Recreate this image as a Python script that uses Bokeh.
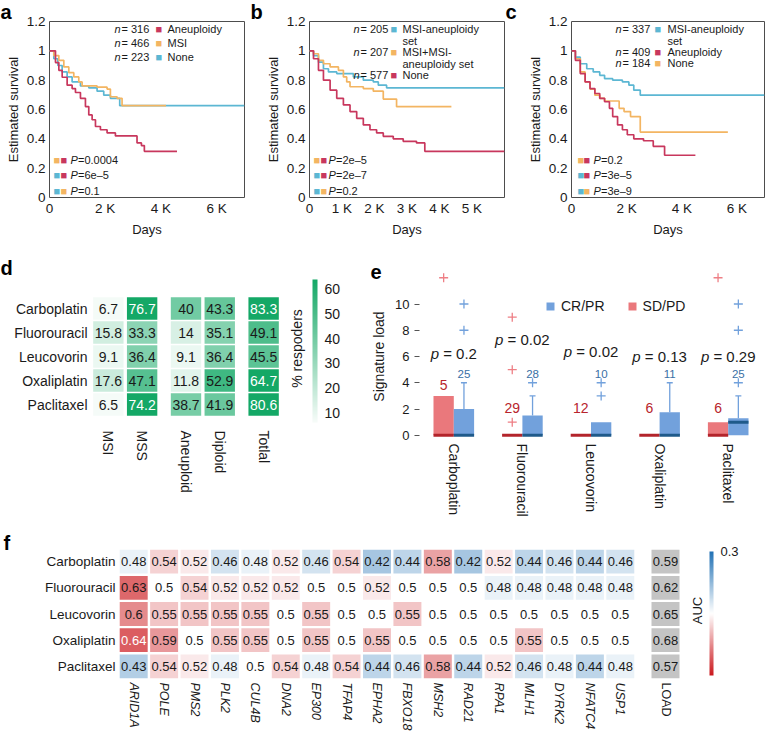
import math
from bokeh.plotting import figure
from bokeh.models import (FactorRange, Range1d, FixedTicker, Label, ColorBar, LinearColorMapper,
                          ColumnDataSource, Legend, LegendItem, NumeralTickFormatter,
                          CustomJSTickFormatter, Title)
from bokeh.transform import dodge, linear_cmap
from bokeh.layouts import row, column
from bokeh.embed import file_html
from bokeh.resources import INLINE
from bokeh.core.properties import value

FONT = "Liberation Sans"
INK = "#1a1a1a"
RED, ORANGE, BLUE = "#c8375d", "#f3b562", "#5cb7d3"

# ================= DATA =================
surv_ticks = [0, 0.2, 0.4, 0.6, 0.8, 1.0, 1.2]
days_ticks_ac = [0, 2000, 4000, 6000]
days_labels_ac = ["0", "2 K", "4 K", "6 K"]
days_ticks_b = [0, 1000, 2000, 3000, 4000, 5000]
days_labels_b = ["0", "1 K", "2 K", "3 K", "4 K", "5 K"]

# panel a
a_aneu_days = [0, 215, 335, 455, 633, 812, 932, 1111, 1290, 1410, 1530, 1650, 1828, 2067, 2366, 3142, 3300, 3405, 4576]
a_aneu_surv = [1.0, 0.92, 0.867, 0.82, 0.766, 0.743, 0.716, 0.676, 0.62, 0.563, 0.53, 0.484, 0.462, 0.44, 0.42, 0.372, 0.354, 0.315, 0.315]
a_msi_days = [0, 155, 335, 514, 693, 872, 1051, 1171, 1708, 2067, 2186, 2425, 2605, 4182]
a_msi_surv = [1.0, 0.968, 0.935, 0.89, 0.851, 0.822, 0.788, 0.761, 0.752, 0.739, 0.687, 0.676, 0.626, 0.626]
a_none_days = [0, 155, 299, 454, 633, 812, 1111, 1410, 1708, 1947, 2186, 2521, 7000]
a_none_surv = [1.0, 0.946, 0.90, 0.856, 0.822, 0.788, 0.761, 0.748, 0.725, 0.698, 0.676, 0.626, 0.626]
a_n = [316, 466, 223]
a_groups = [["Aneuploidy"], ["MSI"], ["None"]]
a_pvals = ["0.0004", "6e\u20135", "0.1"]

# panel b
b_set_days = [0, 123, 276, 429, 583, 838, 1350, 1656, 1963, 2117, 2372, 6000]
b_set_surv = [1.0, 0.968, 0.923, 0.878, 0.856, 0.845, 0.822, 0.80, 0.788, 0.766, 0.748, 0.748]
b_msiset_days = [0, 123, 276, 429, 634, 890, 1043, 1145, 1247, 1656, 1963, 2270, 2679, 4366]
b_msiset_surv = [1.0, 0.98, 0.935, 0.912, 0.89, 0.867, 0.822, 0.788, 0.755, 0.743, 0.725, 0.671, 0.619, 0.619]
b_none_days = [0, 123, 276, 429, 634, 838, 1043, 1247, 1452, 1656, 1861, 2065, 2270, 2577, 2883, 3292, 3548, 6000]
b_none_surv = [1.0, 0.946, 0.867, 0.80, 0.732, 0.676, 0.631, 0.586, 0.54, 0.495, 0.462, 0.44, 0.417, 0.40, 0.383, 0.372, 0.315, 0.315]
b_n = [205, 207, 577]
b_groups = [["MSI-aneuploidy", "set"], ["MSI+MSI-", "aneuploidy set"], ["None"]]
b_pvals = ["2e\u20135", "2e\u20137", "0.2"]

# panel c
c_set_days = [0, 141, 318, 553, 788, 1024, 1200, 1494, 1847, 2082, 2259, 2494, 7000]
c_set_surv = [1.0, 0.957, 0.912, 0.878, 0.856, 0.833, 0.81, 0.80, 0.788, 0.766, 0.732, 0.698, 0.698]
c_aneu_days = [0, 141, 318, 494, 671, 847, 1024, 1200, 1376, 1494, 1671, 1847, 2024, 2259, 2612, 2965, 3376, 4494]
c_aneu_surv = [1.0, 0.935, 0.845, 0.788, 0.743, 0.709, 0.676, 0.653, 0.608, 0.552, 0.495, 0.462, 0.428, 0.40, 0.387, 0.349, 0.288, 0.288]
c_none_days = [0, 141, 318, 494, 671, 847, 1024, 1200, 1729, 1906, 2141, 2494, 5671]
c_none_surv = [1.0, 0.946, 0.856, 0.788, 0.739, 0.698, 0.676, 0.658, 0.608, 0.586, 0.552, 0.446, 0.446]
c_n = [337, 409, 184]
c_groups = [["MSI-aneuploidy", "set"], ["Aneuploidy"], ["None"]]
c_pvals = ["0.2", "3e\u20135", "3e\u20139"]

# panel d
resp_drugs = ["Carboplatin", "Fluorouracil", "Leucovorin", "Oxaliplatin", "Paclitaxel"]
resp_cols = ["MSI", "MSS", "Aneuploid", "Diploid", "Totlal"]
resp_col_group = ["status", "status", "ploidy", "ploidy", "all"]
resp_MSI = [6.7, 15.8, 9.1, 17.6, 6.5]
resp_MSS = [76.7, 33.3, 36.4, 47.1, 74.2]
resp_Aneuploid = [40, 14, 9.1, 11.8, 38.7]
resp_Diploid = [43.3, 35.1, 36.4, 52.9, 41.9]
resp_Total = [83.3, 49.1, 45.5, 64.7, 80.6]
resp_ticks = [10, 20, 30, 40, 50, 60]

# panel e
sig_sd_q1 = [0, 0, 0, 0, 0]
sig_sd_med = [0, 0, 0, 0, 0]
sig_sd_q3 = [3, 0, 0, 0, 1]
sig_sd_hi = [3, 0, 0, 0, 1]
sig_sd_out = [[12], [1, 5, 9], [], [], [12]]
sig_sd_n = [5, 29, 12, 6, 6]
sig_sd_n_y = [3.8, 2.1, 2.1, 2.1, 2.1]
sig_cr_q1 = [0, 0, 0, 0, 0]
sig_cr_med = [0, 0, 0, 0, 1]
sig_cr_q3 = [2, 1.5, 1, 1.75, 1.3]
sig_cr_hi = [4, 3, 1, 4, 3]
sig_cr_out = [[8, 10], [4], [3, 4], [], [4, 8, 10]]
sig_cr_n = [25, 28, 10, 11, 25]
sig_cr_n_y = [4.7, 4.7, 4.7, 4.7, 4.7]
sig_pval = ["0.2", "0.02", "0.02", "0.13", "0.29"]
sig_pval_y = [6.2, 7.3, 6.4, 6.0, 6.0]
sig_ticks = [0, 2, 4, 6, 8, 10]

# panel f
auc_genes = ["ARID1A", "POLE", "PMS2", "PLK2", "CUL4B", "DNA2", "EP300", "TFAP4", "EPHA2",
             "FBXO18", "MSH2", "RAD21", "RPA1", "MLH1", "DYRK2", "NFATC4", "USP1"]
auc_Carboplatin = [0.48, 0.54, 0.52, 0.46, 0.48, 0.52, 0.46, 0.54, 0.42, 0.44, 0.58, 0.42, 0.52, 0.44, 0.46, 0.44, 0.46]
auc_Fluorouracil = [0.63, 0.5, 0.54, 0.52, 0.52, 0.52, 0.5, 0.5, 0.52, 0.5, 0.5, 0.5, 0.48, 0.48, 0.48, 0.48, 0.48]
auc_Leucovorin = [0.6, 0.55, 0.55, 0.55, 0.55, 0.5, 0.55, 0.5, 0.5, 0.55, 0.5, 0.5, 0.5, 0.5, 0.5, 0.5, 0.5]
auc_Oxaliplatin = [0.64, 0.59, 0.5, 0.55, 0.55, 0.5, 0.55, 0.5, 0.55, 0.5, 0.5, 0.5, 0.5, 0.55, 0.5, 0.5, 0.5]
auc_Paclitaxel = [0.43, 0.54, 0.52, 0.48, 0.5, 0.54, 0.48, 0.54, 0.44, 0.46, 0.58, 0.44, 0.52, 0.46, 0.48, 0.44, 0.48]
auc_load_name = ["LOAD"]
auc_load = [0.59, 0.62, 0.65, 0.68, 0.57]
auc_ticks = [0.3, 0.5, 0.7]


# ================= helpers =================
def interp(c0, c1, n):
    return ["#%02x%02x%02x" % tuple(int(round(c0[k] + (c1[k] - c0[k]) * i / (n - 1))) for k in range(3))
            for i in range(n)]


green_pal = interp((247, 252, 249), (20, 168, 102), 256)
div_pal = interp((33, 113, 181), (255, 255, 255), 128) + interp((255, 255, 255), (203, 24, 29), 128)


def txt(p, fh, x, ytop, text, size="11px", color=INK, style="normal", align="left",
        baseline="middle", angle=0.0):
    p.add_layout(Label(x=x, y=fh - ytop, x_units="screen", y_units="screen", text=text,
                       text_font=FONT, text_font_size=size, text_color=color,
                       text_font_style=style, text_align=align, text_baseline=baseline, angle=angle))


def letter(p, text, offset, standoff):
    p.add_layout(Title(text=text, align="left", offset=offset, standoff=standoff,
                       text_font=FONT, text_font_size="20px", text_font_style="bold",
                       text_color="black"), "above")


def base_fig(width, height, x_range, y_range, left, right, top, bottom, xaxis=True, yaxis=True):
    kw = {}
    if not xaxis:
        kw["x_axis_type"] = None
    if not yaxis:
        kw["y_axis_type"] = None
    p = figure(width=width, height=height, x_range=x_range, y_range=y_range,
               output_backend="svg", toolbar_location=None, tools="",
               min_border_left=left, min_border_right=right, min_border_top=top,
               min_border_bottom=bottom, **kw)
    p.grid.visible = False
    p.outline_line_color = None
    p.background_fill_color = "white"
    p.border_fill_color = "white"
    for ax in p.axis:
        ax.axis_line_color = None
        ax.major_tick_line_color = None
        ax.minor_tick_line_color = None
        ax.major_tick_out = 0
        ax.major_tick_in = 0
        ax.minor_tick_out = 0
        ax.major_label_text_font = FONT
        ax.major_label_text_color = INK
        ax.axis_label_text_font = FONT
        ax.axis_label_text_font_style = "normal"
        ax.axis_label_text_color = INK
    return p


H1, H2, H3 = 244, 284, 214
P_ROWS = [140, 155, 171]
FH1 = 178
UP = math.pi / 2   # counter-clockwise: text reads bottom-to-top


def km(letter_txt, width, left, right, x_end, xt, xl, curves, legend, leg_x, leg_y, pvals, p_x, letter_x):
    p = base_fig(width, H1, Range1d(0, x_end), Range1d(0, 1.2), left, right, 19, H1 - 19 - FH1)
    p.outline_line_color = "#4d4d4d"
    p.outline_line_width = 1
    for ax in p.axis:
        ax.major_label_text_font_size = "13.5px"
        ax.axis_label_text_font_size = "13px"
    p.xaxis.ticker = FixedTicker(ticks=xt)
    p.xaxis.major_label_overrides = dict(zip(xt, xl))
    p.yaxis.ticker = FixedTicker(ticks=surv_ticks)
    p.yaxis.formatter = NumeralTickFormatter(format="0.[0]")
    p.xaxis.axis_label = "Days"
    p.yaxis.axis_label = "Estimated survival"
    p.xaxis.major_label_standoff = 3
    p.yaxis.major_label_standoff = 4
    p.xaxis.axis_label_standoff = 3
    p.yaxis.axis_label_standoff = 3
    for days, surv, color in curves:
        p.step(days, surv, mode="after", line_color=color, line_width=1.7)
    xn, xe, xs, xlab = leg_x
    for (n, lines, color), yt in zip(legend, leg_y):
        txt(p, FH1, xn, yt, "n", style="italic")
        txt(p, FH1, xe, yt, "= %d" % n)
        txt(p, FH1, xs, yt, "\u25a0", color=color)
        for k, line in enumerate(lines):
            txt(p, FH1, xlab, yt + 12 * k, line)
    for (pv, c1, c2), yt in zip(pvals, P_ROWS):
        txt(p, FH1, p_x[0], yt, "\u25a0", color=c1)
        txt(p, FH1, p_x[1], yt, "\u25a0", color=c2)
        txt(p, FH1, p_x[2], yt, "P", style="italic")
        txt(p, FH1, p_x[3], yt, "=" + pv)
    letter(p, letter_txt, letter_x, -3)
    return p


# ================= panels a, b, c =================
pa = km("a", 250, 49, 6, 7000, days_ticks_ac, days_labels_ac,
        [(a_none_days, a_none_surv, BLUE), (a_msi_days, a_msi_surv, ORANGE), (a_aneu_days, a_aneu_surv, RED)],
        list(zip(a_n, a_groups, [RED, ORANGE, BLUE])), (65, 72, 106, 118), [9, 23, 37],
        list(zip(a_pvals, [ORANGE, BLUE, BLUE], [RED, RED, ORANGE])), (4, 11, 21, 28.5), -49)

pb = km("b", 255, 59, 1, 6000, days_ticks_b, days_labels_b,
        [(b_set_days, b_set_surv, BLUE), (b_msiset_days, b_msiset_surv, ORANGE), (b_none_days, b_none_surv, RED)],
        list(zip(b_n, b_groups, [BLUE, ORANGE, RED])), (44, 51, 81, 93), [9, 32, 55],
        list(zip(b_pvals, [ORANGE, BLUE, BLUE], [RED, RED, ORANGE])), (4, 11, 19, 26.5), -59)

pc = km("c", 261, 66, 2, 7000, days_ticks_ac, days_labels_ac,
        [(c_set_days, c_set_surv, BLUE), (c_none_days, c_none_surv, ORANGE), (c_aneu_days, c_aneu_surv, RED)],
        list(zip(c_n, c_groups, [BLUE, RED, ORANGE])), (44, 51, 83, 96), [9, 32, 43],
        list(zip(c_pvals, [ORANGE, BLUE, BLUE], [RED, RED, ORANGE])), (6, 12, 22, 29.5), -66)

# ================= panel d =================
FH2 = 168
TOP2, BOT2 = 28, H2 - 28 - 168
d_factors = list(zip(resp_col_group, resp_cols))
d_vals = [resp_MSI, resp_MSS, resp_Aneuploid, resp_Diploid, resp_Total]
dx, dy, dv, dl, dc = [], [], [], [], []
for j, fac in enumerate(d_factors):
    for i, drug in enumerate(resp_drugs):
        v = d_vals[j][i]
        dx.append(fac); dy.append(drug); dv.append(v)
        dl.append("%g" % v); dc.append("white" if v > 60 else INK)
src_d = ColumnDataSource(dict(x=dx, y=dy, v=dv, lab=dl, tc=dc))

pdd = base_fig(282, H2, FactorRange(*d_factors, factor_padding=0, group_padding=0.3),
               FactorRange(*reversed(resp_drugs), range_padding=1.0, range_padding_units="absolute"),
               91, 2, TOP2, BOT2)
pdd.rect(x="x", y="y", width=0.9, height=0.93, source=src_d,
         fill_color=linear_cmap("v", green_pal, 6, 64), line_color=None)
pdd.text(x="x", y="y", text="lab", source=src_d, text_align="center", text_baseline="middle",
         text_color="tc", text_font_size="14px", text_font=value(FONT))
pdd.yaxis.major_label_text_font_size = "14px"
pdd.yaxis.major_label_standoff = 4
pdd.xaxis.major_label_text_font_size = "14px"
pdd.xaxis.major_label_orientation = "vertical"
pdd.xaxis.major_label_standoff = -10
pdd.xaxis.group_text_font_size = "0px"
pdd.xaxis.group_text_color = None
pdd.xaxis.separator_line_color = None
letter(pdd, "d", -91, -12)

# colour key of d, in its own small plot
cbd = base_fig(84, H2, Range1d(0, 1), Range1d(0, 1), 0, 0, TOP2, BOT2, xaxis=False, yaxis=False)
cb_d = ColorBar(color_mapper=LinearColorMapper(palette=green_pal, low=6, high=64),
                location=(30, 18), orientation="vertical", width=5, height=143,
                ticker=FixedTicker(ticks=resp_ticks), major_label_text_font_size="14px",
                major_label_text_font=FONT, major_label_text_color=INK,
                major_tick_line_color=None, minor_tick_line_color=None, bar_line_color=None,
                border_line_color=None, background_fill_color=None, padding=0, margin=0,
                label_standoff=7)
cbd.add_layout(cb_d)
txt(cbd, FH2, 14, 76, "% respoders", size="14px", align="center", angle=UP)

# ================= panel e =================
pe = base_fig(400, H2, FactorRange(*resp_drugs), Range1d(-0.4, 12.4), 53, 4, TOP2, BOT2)
BOX_W, OFF = 0.296, 0.148
RED_BOX, BLUE_BOX = "#ea787c", "#72a1dc"


def pw(s, size=15.0):
    w = {"p": 0.556, "=": 0.584, " ": 0.278, ".": 0.278}
    return sum(w.get(ch, 0.556) for ch in s) * size


p_off, r_off = [], []
for pv in sig_pval:
    total = pw("p ") + pw("= " + pv)
    p_off.append(-total / 2)
    r_off.append(-total / 2 + pw("p "))
src_e = ColumnDataSource(dict(
    drug=resp_drugs, sd_q1=sig_sd_q1, sd_med=sig_sd_med, sd_q3=sig_sd_q3, sd_hi=sig_sd_hi,
    cr_q1=sig_cr_q1, cr_med=sig_cr_med, cr_q3=sig_cr_q3, cr_hi=sig_cr_hi,
    sd_n=[str(n) for n in sig_sd_n], cr_n=[str(n) for n in sig_cr_n],
    sd_n_y=sig_sd_n_y, cr_n_y=sig_cr_n_y, p_y=sig_pval_y,
    p_rest=["= " + pv for pv in sig_pval], p_off=p_off, r_off=r_off))
sd_x = dodge("drug", -OFF, range=pe.x_range)
cr_x = dodge("drug", OFF, range=pe.x_range)

r_sd = pe.vbar(x=sd_x, top="sd_q3", bottom="sd_q1", width=BOX_W, source=src_e,
               fill_color=RED_BOX, line_color=None)
r_cr = pe.vbar(x=cr_x, top="cr_q3", bottom="cr_q1", width=BOX_W, source=src_e,
               fill_color=BLUE_BOX, line_color=None)
pe.segment(x0=cr_x, y0="cr_q3", x1=cr_x, y1="cr_hi", source=src_e, line_color=BLUE_BOX, line_width=1.3)
pe.segment(x0=sd_x, y0="sd_q3", x1=sd_x, y1="sd_hi", source=src_e, line_color=RED_BOX, line_width=1.3)

cap_cr = ColumnDataSource(dict(
    drug=[d for d, q, h in zip(resp_drugs, sig_cr_q3, sig_cr_hi) if h > q],
    y=[h for q, h in zip(sig_cr_q3, sig_cr_hi) if h > q]))
pe.scatter(x=cr_x, y="y", source=cap_cr, marker="dash", size=6, line_color=BLUE_BOX, line_width=1.3)

pe.rect(x=sd_x, y="sd_med", width=BOX_W, height=3, height_units="screen", source=src_e,
        fill_color="#b3242b", line_color=None)
pe.rect(x=cr_x, y="cr_med", width=BOX_W, height=3, height_units="screen", source=src_e,
        fill_color="#1f5a8a", line_color=None)


def flat(outs):
    xs, ys = [], []
    for d, o in zip(resp_drugs, outs):
        for v in o:
            xs.append(d); ys.append(v)
    return ColumnDataSource(dict(drug=xs, y=ys))


pe.scatter(x=sd_x, y="y", source=flat(sig_sd_out), marker="cross", size=9, line_color="#ee7f85", line_width=1.3)
pe.scatter(x=cr_x, y="y", source=flat(sig_cr_out), marker="cross", size=9, line_color=BLUE_BOX, line_width=1.3)

pe.text(x=sd_x, y="sd_n_y", text="sd_n", source=src_e, text_align="center", text_baseline="middle",
        text_color="#b8242c", text_font_size="14px", text_font=value(FONT))
pe.text(x=cr_x, y="cr_n_y", text="cr_n", source=src_e, text_align="center", text_baseline="middle",
        text_color="#3a6fa5", text_font_size="11.5px", text_font=value(FONT))
pe.text(x="drug", y="p_y", text=value("p"), x_offset="p_off", source=src_e, text_align="left",
        text_baseline="middle", text_color=INK, text_font_size="15px", text_font=value(FONT),
        text_font_style="italic")
pe.text(x="drug", y="p_y", text="p_rest", x_offset="r_off", source=src_e, text_align="left",
        text_baseline="middle", text_color=INK, text_font_size="15px", text_font=value(FONT))

leg = Legend(items=[LegendItem(label="CR/PR", renderers=[r_cr]), LegendItem(label="SD/PD", renderers=[r_sd])],
             orientation="horizontal", location=(126, 126), label_text_font=FONT,
             label_text_font_size="14px", label_text_color=INK, glyph_width=10, glyph_height=10,
             label_height=12, label_standoff=6, spacing=22, padding=0, margin=0,
             border_line_color=None, background_fill_alpha=0)
pe.add_layout(leg)

pe.yaxis.ticker = FixedTicker(ticks=sig_ticks)
pe.yaxis.major_tick_line_color = "#555555"
pe.yaxis.major_tick_out = 5
pe.yaxis.major_label_standoff = 5
pe.yaxis.major_label_text_font_size = "13px"
pe.yaxis.axis_label = "Signature load"
pe.yaxis.axis_label_text_font_size = "14px"
pe.yaxis.axis_label_standoff = 5
pe.xaxis.major_label_orientation = "vertical"
pe.xaxis.major_label_text_font_size = "14px"
pe.xaxis.major_label_standoff = 3
letter(pe, "e", -49, -12)

# ================= panel f =================
FH3 = 131
TOP3, BOT3 = 20, H3 - 20 - 131
auc_rows = [auc_Carboplatin, auc_Fluorouracil, auc_Leucovorin, auc_Oxaliplatin, auc_Paclitaxel]
fx, fy, fv, fl, fc = [], [], [], [], []
for i, drug in enumerate(resp_drugs):
    for j, g in enumerate(auc_genes):
        v = auc_rows[i][j]
        fx.append(g); fy.append(drug); fv.append(v)
        fl.append("%g" % v); fc.append("white" if abs(v - 0.5) > 0.135 else INK)
src_f = ColumnDataSource(dict(x=fx, y=fy, v=fv, lab=fl, tc=fc))
src_load = ColumnDataSource(dict(x=auc_load_name * len(resp_drugs), y=resp_drugs,
                                 lab=["%g" % v for v in auc_load]))

pf = base_fig(635, H3, FactorRange(*auc_genes), FactorRange(*reversed(resp_drugs)),
              118, 0, TOP3, BOT3)
pf.rect(x="x", y="y", width=0.92, height=0.91, source=src_f,
        fill_color=linear_cmap("v", div_pal, 0.3, 0.7), line_color=None)
pf.text(x="x", y="y", text="lab", source=src_f, text_align="center", text_baseline="middle",
        text_color="tc", text_font_size="13px", text_font=value(FONT))
pf.yaxis.major_label_text_font_size = "13.5px"
pf.yaxis.major_label_standoff = 3
pf.xaxis.major_label_orientation = "vertical"
pf.xaxis.major_label_text_font_size = "12.5px"
pf.xaxis.major_label_text_font_style = "italic"
pf.xaxis.major_label_standoff = 3
letter(pf, "f", -115, -10)

# LOAD column, separate so that its label is upright
pl = base_fig(48, H3, FactorRange(*auc_load_name), FactorRange(*reversed(resp_drugs)),
              12, 0, TOP3, BOT3, yaxis=False)
pl.rect(x="x", y="y", width=28 / 36, height=0.91, source=src_load, fill_color="#c4c4c4", line_color=None)
pl.text(x="x", y="y", text="lab", source=src_load, text_align="center", text_baseline="middle",
        text_color=INK, text_font_size="13px", text_font=value(FONT))
pl.xaxis.major_label_orientation = "vertical"
pl.xaxis.major_label_text_font_size = "12.5px"
pl.xaxis.major_label_standoff = 3

# colour key of f, in its own small plot
cbf = base_fig(83, H3, Range1d(0, 1), Range1d(0, 1), 0, 0, TOP3, BOT3, xaxis=False, yaxis=False)
cb_f = ColorBar(color_mapper=LinearColorMapper(palette=list(reversed(div_pal)), low=-0.7, high=-0.3),
                location=(26, 4), orientation="vertical", width=4, height=124,
                ticker=FixedTicker(ticks=[-t for t in auc_ticks]),
                formatter=CustomJSTickFormatter(code="return (-tick).toFixed(1)"),
                major_label_text_font_size="13px", major_label_text_font=FONT,
                major_label_text_color=INK, major_tick_line_color=None, minor_tick_line_color=None,
                bar_line_color=None, border_line_color=None, background_fill_color=None,
                padding=0, margin=0, label_standoff=7)
cbf.add_layout(cb_f)
txt(cbf, FH3, 14, 62, "AUC", size="13px", align="center", angle=UP)

layout = column(row(pa, pb, pc, spacing=0), row(pdd, cbd, pe, spacing=0),
                row(pf, pl, cbf, spacing=0), spacing=0)
open("out.html", "w").write(file_html(layout, INLINE))
